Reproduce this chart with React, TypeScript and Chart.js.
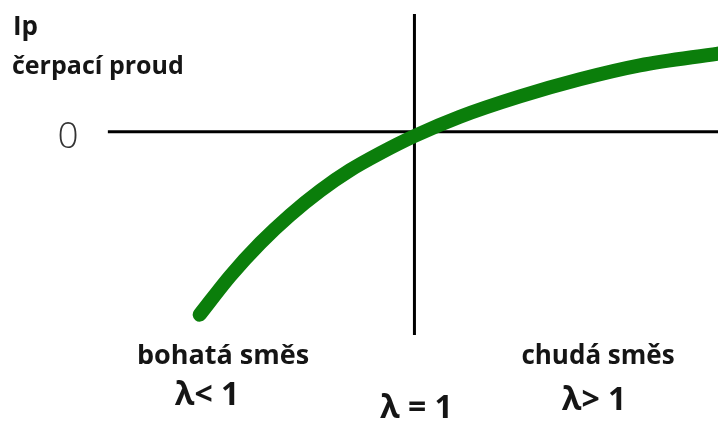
import { useEffect, useRef } from 'react';
import { Chart, registerables } from 'chart.js';

Chart.register(...registerables);

// Pumping current Ip of a wideband lambda probe versus the air ratio λ
const lambdaValues = [0.717, 0.757, 0.797, 0.836, 0.876, 0.915, 0.955, 1.0, 1.06, 1.139, 1.218, 1.297, 1.4];
const ipValues = [-1.71, -1.35, -1.04, -0.78, -0.55, -0.36, -0.2, -0.04, 0.14, 0.33, 0.49, 0.62, 0.73];

// Extent of the drawn axis lines
const lambdaAxisSpan = [0.596, 1.4];
const ipAxisSpan = [-1.9, 1.1];

// Texts
const yTitleLines = ['Ip', 'čerpací proud'];
const zeroLabel = '0';
const mixtureLabels = ['bohatá směs', 'chudá směs'];
const ratioLabels = ['λ< 1', 'λ = 1', 'λ> 1'];

const TEXT_COLOR = '#151515';
const FONT = '"Open Sans", "DejaVu Sans", sans-serif';

const textPlugin = {
  id: 'probeTexts',
  afterDraw(chart: any) {
    const { ctx } = chart;
    const xs = chart.scales.x;
    const ys = chart.scales.y;
    const zeroY = ys.getPixelForValue(0);
    const oneX = xs.getPixelForValue(1);
    ctx.save();
    ctx.fillStyle = TEXT_COLOR;
    ctx.textBaseline = 'alphabetic';

    // y-axis title
    ctx.textAlign = 'left';
    ctx.font = `700 26px ${FONT}`;
    ctx.fillText(yTitleLines[0], 13, 35);
    ctx.font = `700 25px ${FONT}`;
    ctx.fillText(yTitleLines[1], 12, 74);

    // zero mark
    ctx.font = `300 37px ${FONT}`;
    ctx.fillStyle = '#333333';
    ctx.textAlign = 'center';
    ctx.fillText(zeroLabel, 68, zeroY + 16);

    // mixture descriptions
    ctx.fillStyle = TEXT_COLOR;
    ctx.font = `700 27px ${FONT}`;
    ctx.fillText(mixtureLabels[0], 223, 364);
    ctx.font = `700 26px ${FONT}`;
    ctx.fillText(mixtureLabels[1], 598, 364);

    // air-ratio labels
    ctx.font = `700 32px ${FONT}`;
    ctx.fillText(ratioLabels[0], 207, 405);
    ctx.fillText(ratioLabels[1], oneX + 2, 418);
    ctx.fillText(ratioLabels[2], 594, 410);
    ctx.restore();
  },
};

export default function App() {
  const canvasRef = useRef<HTMLCanvasElement | null>(null);

  useEffect(() => {
    if (!canvasRef.current) return;
    const chart = new Chart(canvasRef.current, {
      type: 'line',
      data: {
        datasets: [
          {
            data: lambdaValues.map((x, i) => ({ x, y: ipValues[i] })),
            borderColor: '#0b7e0b',
            borderWidth: 14,
            borderCapStyle: 'round',
            borderJoinStyle: 'round',
            pointRadius: 0,
            cubicInterpolationMode: 'monotone',
            fill: false,
            order: 0,
          },
          {
            data: lambdaAxisSpan.map((x) => ({ x, y: 0 })),
            borderColor: '#000000',
            borderWidth: 3,
            pointRadius: 0,
            tension: 0,
            fill: false,
            order: 1,
          },
          {
            data: ipAxisSpan.map((y) => ({ x: 1, y })),
            borderColor: '#000000',
            borderWidth: 3,
            pointRadius: 0,
            tension: 0,
            fill: false,
            order: 1,
          },
        ],
      } as any,
      options: {
        animation: false,
        responsive: true,
        maintainAspectRatio: false,
        layout: { padding: { left: 35, right: 0, top: 14, bottom: 86 } },
        scales: {
          x: { type: 'linear', min: 0.5, max: 1.4, display: false },
          y: { type: 'linear', min: ipAxisSpan[0], max: ipAxisSpan[1], display: false },
        },
        plugins: {
          legend: { display: false },
          tooltip: { enabled: false },
        },
      } as any,
      plugins: [textPlugin],
    });
    return () => chart.destroy();
  }, []);

  return (
    <div style={{ position: 'fixed', left: 0, top: 0, width: 718, height: 421, background: '#ffffff' }}>
      <canvas ref={canvasRef} />
    </div>
  );
}
